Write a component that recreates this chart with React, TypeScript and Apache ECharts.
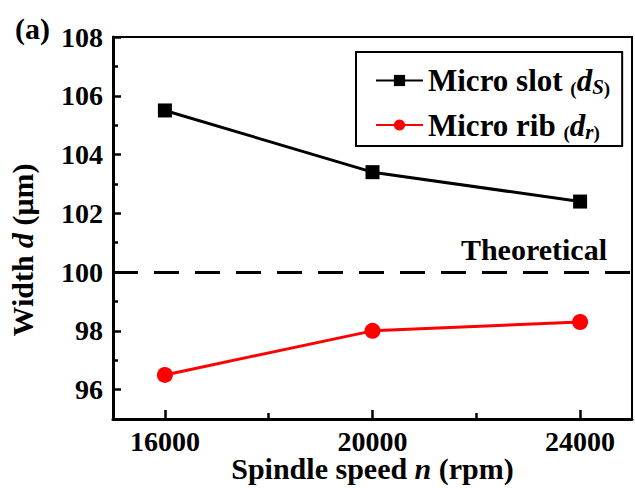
import React, { useEffect, useRef } from "react";
import * as echarts from "echarts";

const speeds = [16000, 20000, 24000];
const speedMinorTicks = [18000, 22000];
const slotWidth = [105.5, 103.4, 102.4];
const ribWidth = [96.5, 98.0, 98.3];
const theoretical = 100;
const widthTicks = [96, 98, 100, 102, 104, 106, 108];
const widthMinorTicks = [97, 99, 101, 103, 105, 107];
const seriesNames = ["Micro slot", "Micro rib"];
const subscripts = ["S", "r"];

const FONT = "'Liberation Serif', 'Times New Roman', serif";
const X_MIN = 15000;
const X_MAX = 25000;
const Y_MIN = 95;
const Y_MAX = 108;

export default function App() {
  const ref = useRef<HTMLDivElement>(null);
  useEffect(() => {
    if (!ref.current) return;
    const chart = echarts.init(ref.current, undefined, { renderer: "svg" });
    const bold = { fontFamily: FONT, fontWeight: "bold", color: "#000" };
    const legendRich = {
      n: { ...bold, fontSize: 31, lineHeight: 34 },
      p: { ...bold, fontSize: 19, verticalAlign: "bottom", lineHeight: 34 },
      d: { ...bold, fontStyle: "italic", fontSize: 31, lineHeight: 34 },
      s: { ...bold, fontStyle: "italic", fontSize: 21, verticalAlign: "bottom", lineHeight: 34 },
    };
    const xTitleRich = {
      t: { ...bold, fontSize: 30, lineHeight: 24 },
      i: { ...bold, fontStyle: "italic", fontSize: 30, lineHeight: 24 },
    };
    const yTitleRich = {
      t: { ...bold, fontSize: 30 },
      i: { ...bold, fontStyle: "italic", fontSize: 30 },
    };
    chart.setOption({
      animation: false,
      backgroundColor: "#fff",
      title: {
        text: "(a)",
        left: 10,
        top: 8,
        textStyle: { ...bold, fontSize: 30 },
      },
      grid: {
        left: 113,
        right: 3,
        top: 37,
        bottom: 69,
        containLabel: false,
        outerBoundsMode: "none",
        show: true,
        borderColor: "#000",
        borderWidth: 2,
        backgroundColor: "transparent",
      },
      legend: {
        orient: "vertical",
        left: 356,
        top: 52,
        backgroundColor: "#fff",
        borderColor: "#000",
        borderWidth: 2,
        borderRadius: 0,
        padding: [13, 12, 4, 19],
        itemWidth: 47,
        itemHeight: 14,
        itemGap: 12,
        data: seriesNames,
        formatter: (name: string) => {
          const i = seriesNames.indexOf(name);
          return `{n|${name} }{p|(}{d|d}{s|${subscripts[i]}}{p|)}`;
        },
        textStyle: { rich: legendRich, ...bold, fontSize: 31 },
      },
      xAxis: [
        {
          type: "value",
          position: "bottom",
          min: X_MIN,
          max: X_MAX,
          name: "{t|Spindle speed }{i|n}{t| (rpm)}",
          nameLocation: "middle",
          nameGap: 37,
          nameMoveOverlap: false,
          nameTextStyle: { ...bold, fontSize: 30, lineHeight: 24, rich: xTitleRich },
          axisLine: { show: true, onZero: false, lineStyle: { color: "#000", width: 3 } },
          axisTick: {
            show: true,
            inside: true,
            length: 9,
            customValues: speeds,
            lineStyle: { color: "#000", width: 2.5 },
          },
          splitLine: { show: false },
          axisLabel: {
            margin: 10,
            customValues: speeds,
            formatter: (v: number) => String(v),
            ...bold,
            fontSize: 28,
            lineHeight: 24,
          },
        },
        {
          type: "value",
          position: "bottom",
          min: X_MIN,
          max: X_MAX,
          axisLine: { show: false, onZero: false },
          axisTick: {
            show: true,
            inside: true,
            length: 6,
            customValues: speedMinorTicks,
            lineStyle: { color: "#000", width: 2.5 },
          },
          axisLabel: { show: false },
          splitLine: { show: false },
        },
      ],
      yAxis: [
        {
          type: "value",
          position: "left",
          min: Y_MIN,
          max: Y_MAX,
          name: "{t|Width }{i|d}{t| (μm)}",
          nameLocation: "middle",
          nameGap: 76,
          nameMoveOverlap: false,
          nameTextStyle: {
            ...bold,
            fontSize: 30,
            rich: yTitleRich,
            padding: [0, 44, 0, 0],
          },
          axisLine: { show: true, onZero: false, lineStyle: { color: "#000", width: 3 } },
          axisTick: {
            show: true,
            inside: true,
            length: 8,
            customValues: widthTicks,
            lineStyle: { color: "#000", width: 2.5 },
          },
          splitLine: { show: false },
          axisLabel: {
            margin: 10,
            customValues: widthTicks,
            formatter: (v: number) => String(v),
            ...bold,
            fontSize: 28,
          },
        },
        {
          type: "value",
          position: "left",
          min: Y_MIN,
          max: Y_MAX,
          axisLine: { show: false, onZero: false },
          axisTick: {
            show: true,
            inside: true,
            length: 5,
            customValues: widthMinorTicks,
            lineStyle: { color: "#000", width: 2.5 },
          },
          axisLabel: { show: false },
          splitLine: { show: false },
        },
      ],
      series: [
        {
          name: seriesNames[0],
          type: "line",
          xAxisIndex: 0,
          yAxisIndex: 0,
          data: speeds.map((s, i) => [s, slotWidth[i]]),
          symbol: "rect",
          symbolSize: 14,
          itemStyle: { color: "#000" },
          lineStyle: { color: "#000", width: 3 },
          markLine: {
            silent: true,
            symbol: ["none", "none"],
            data: [{ yAxis: theoretical }],
            lineStyle: { color: "#000", width: 3, type: [25, 16] },
            label: {
              show: true,
              formatter: "Theoretical",
              position: "insideEndTop",
              distance: [25, 8],
              ...bold,
              fontSize: 30,
            },
          },
        },
        {
          name: seriesNames[1],
          type: "line",
          xAxisIndex: 0,
          yAxisIndex: 0,
          data: speeds.map((s, i) => [s, ribWidth[i]]),
          symbol: "circle",
          symbolSize: 16,
          itemStyle: { color: "#ff0000" },
          lineStyle: { color: "#ff0000", width: 3 },
        },
      ],
    });
    return () => chart.dispose();
  }, []);
  return (
    <div
      ref={ref}
      style={{ position: "fixed", left: 0, top: 0, width: 635, height: 488 }}
    />
  );
}
